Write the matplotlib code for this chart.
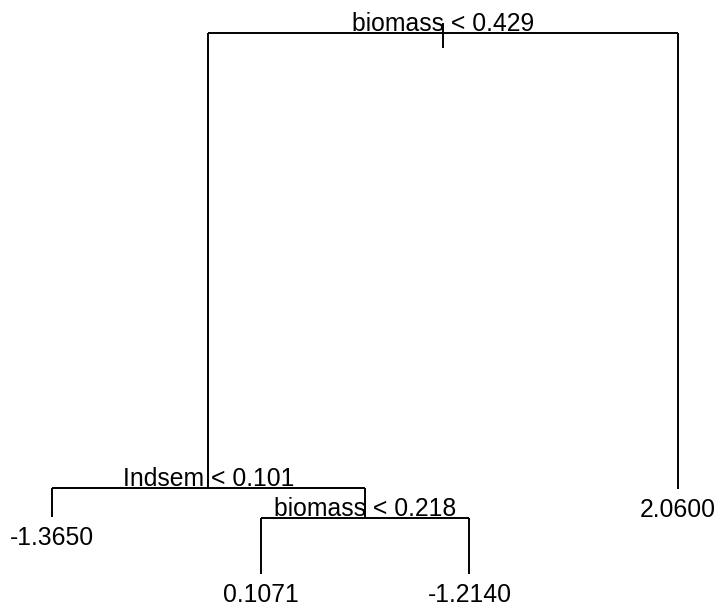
import matplotlib
matplotlib.use("Agg")
import matplotlib.pyplot as plt

# Regression tree: internal splits and terminal node means
node_ids = [1, 2, 3, 4, 5, 6, 7]
node_parent = [None, 1, 1, 2, 2, 5, 5]
node_split = ["biomass < 0.429", "Indsem < 0.101", None, None,
              "biomass < 0.218", None, None]
node_value = [None, None, 2.0600, -1.3650, None, 0.1071, -1.2140]
# node deviance (vertical position of each node)
node_dev = [54.1, 8.6, 8.5, 5.7, 5.6, 0.0, 0.0]

# leaves are placed at 1..n from left to right in tree order
leaf_order = [4, 6, 7, 3]

children = {i: [] for i in node_ids}
for nid, par in zip(node_ids, node_parent):
    if par is not None:
        children[par].append(nid)

xpos = {nid: float(k + 1) for k, nid in enumerate(leaf_order)}


def place(nid):
    if nid in xpos:
        return xpos[nid]
    kids = children[nid]
    # left child first: order by leaf ordering
    xs = [place(c) for c in kids]
    xpos[nid] = sum(xs) / len(xs)
    return xpos[nid]


place(1)
dev = dict(zip(node_ids, node_dev))
split = dict(zip(node_ids, node_split))
value = dict(zip(node_ids, node_value))

fig = plt.figure(figsize=(7.19, 6.06), dpi=100)
ax = fig.add_axes([0, 0, 1, 1])
ax.set_xlim(0.751, 4.196)
ax.set_ylim(-3.2, 57.4)
ax.axis("off")

lw = 1.4
font = dict(family=["Liberation Sans", "DejaVu Sans"], size=17.8, color="black")

# root stub
ax.plot([xpos[1], xpos[1]], [dev[1] + 0.9, dev[1] - 1.4], color="black", lw=lw)

for nid in node_ids:
    kids = children[nid]
    if kids:
        xs = [xpos[c] for c in kids]
        ax.plot([min(xs), max(xs)], [dev[nid], dev[nid]], color="black", lw=lw,
                solid_capstyle="butt")
        for c in kids:
            ax.plot([xpos[c], xpos[c]], [dev[nid], dev[c]], color="black", lw=lw,
                    solid_capstyle="butt")
        ax.annotate(split[nid], (xpos[nid], dev[nid]), xytext=(0, 1.5),
                    textcoords="offset points", ha="center", va="baseline", **font)
    else:
        ax.annotate(f"{value[nid]:.4f}", (xpos[nid], dev[nid]), xytext=(0, -20),
                    textcoords="offset points", ha="center", va="baseline", **font)

fig.savefig("out.png", dpi=100)
